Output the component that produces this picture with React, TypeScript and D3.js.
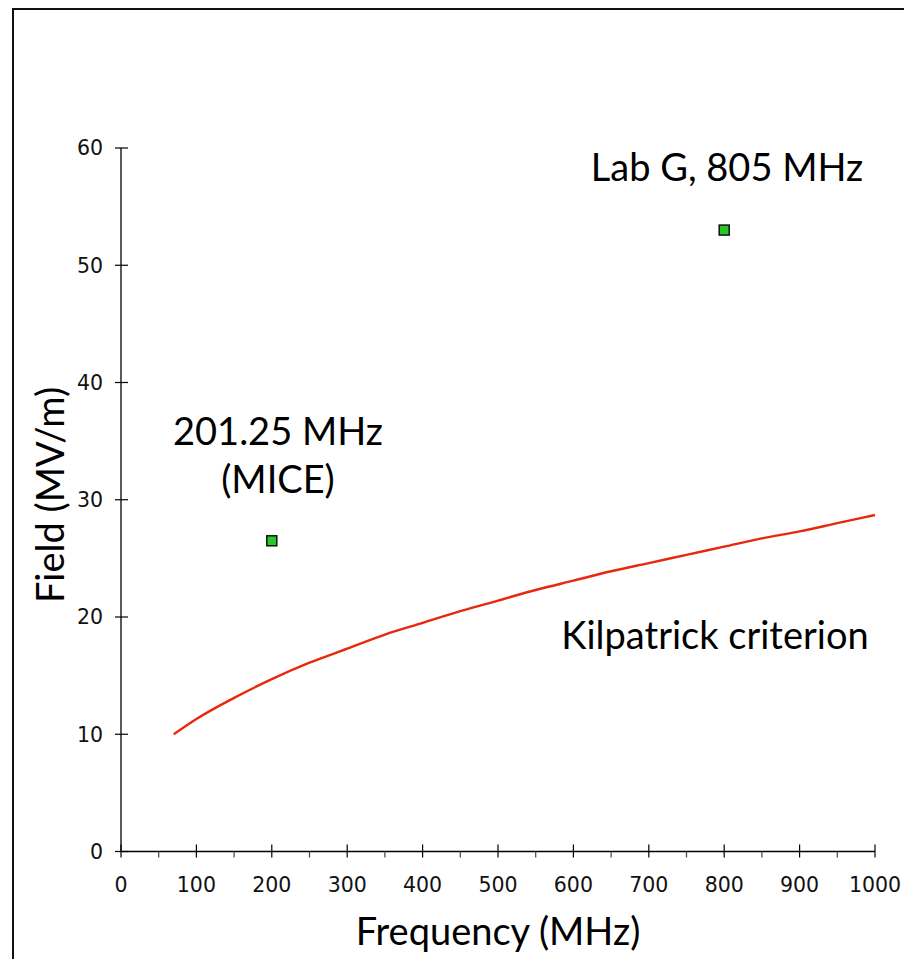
// ─ Imports ──────────────────────────────────────────────────────────────────────────────────────
import * as d3 from 'd3';
import { ReactElement, useEffect, useRef } from 'react';

// ─ Data ─────────────────────────────────────────────────────────────────────────────────────────
const kilpatrickFreq = [70, 100, 150, 200, 250, 300, 350, 400, 450, 500, 550, 600, 650, 700, 750, 800, 850, 900, 950, 1000];
const kilpatrickField = [10.0, 11.3, 13.1, 14.7, 16.1, 17.3, 18.5, 19.5, 20.5, 21.4, 22.3, 23.1, 23.9, 24.6, 25.3, 26.0, 26.7, 27.3, 28.0, 28.7];

const pointFreq = [200, 800];
const pointField = [26.5, 53];

const xTicks = [0, 100, 200, 300, 400, 500, 600, 700, 800, 900, 1000];
const xMinorTicks = [50, 150, 250, 350, 450, 550, 650, 750, 850, 950];
const yTicks = [0, 10, 20, 30, 40, 50, 60];

const WIDTH = 904;
const HEIGHT = 959;
const LABEL_FONT = '"Comic Sans MS", "Lato", "Noto Sans", sans-serif';
const TICK_FONT = '"DejaVu Sans", Verdana, sans-serif';

/**
 * Field vs frequency chart with Kilpatrick criterion curve and two measured points.
 */
const App = (): ReactElement => {
  const svgRef = useRef<SVGSVGElement>(null);

  useEffect(() => {
    if (!svgRef.current) { return; }
    const svg = d3.select(svgRef.current);
    svg.selectAll('*').remove();

    // Outer frame (cut off on the right and bottom)
    svg.append('rect')
      .attr('x', 13)
      .attr('y', 9)
      .attr('width', WIDTH + 20)
      .attr('height', HEIGHT + 20)
      .attr('fill', 'white')
      .attr('stroke', '#111')
      .attr('stroke-width', 2);

    const x = d3.scaleLinear().domain([0, 1000]).range([121, 875]);
    const y = d3.scaleLinear().domain([0, 60]).range([851.5, 148]);

    const g = svg.append('g');

    // Axes lines
    g.append('line')
      .attr('x1', x(0)).attr('x2', x(0))
      .attr('y1', y(0)).attr('y2', y(60))
      .attr('stroke', '#000').attr('stroke-width', 1.3);
    g.append('line')
      .attr('x1', x(0)).attr('x2', x(1000))
      .attr('y1', y(0)).attr('y2', y(0))
      .attr('stroke', '#000').attr('stroke-width', 1.3);

    // Y ticks (crossing)
    g.selectAll('.ytick')
      .data(yTicks)
      .enter()
      .append('line')
      .attr('x1', x(0) - 6).attr('x2', x(0) + 7)
      .attr('y1', d => y(d)).attr('y2', d => y(d))
      .attr('stroke', '#000').attr('stroke-width', 1.2);

    g.selectAll('.ylabel')
      .data(yTicks)
      .enter()
      .append('text')
      .attr('x', x(0) - 18)
      .attr('y', d => y(d))
      .attr('dy', '0.36em')
      .attr('text-anchor', 'end')
      .style('font-family', TICK_FONT)
      .style('font-size', '20.5px')
      .style('fill', '#111')
      .text(d => d);

    // X ticks (major crossing, minor below)
    g.selectAll('.xtick')
      .data(xTicks)
      .enter()
      .append('line')
      .attr('x1', d => x(d)).attr('x2', d => x(d))
      .attr('y1', y(0) - 7).attr('y2', y(0) + 6)
      .attr('stroke', '#000').attr('stroke-width', 1.2);

    g.selectAll('.xminor')
      .data(xMinorTicks)
      .enter()
      .append('line')
      .attr('x1', d => x(d)).attr('x2', d => x(d))
      .attr('y1', y(0)).attr('y2', y(0) + 6)
      .attr('stroke', '#444').attr('stroke-width', 1.2);

    g.selectAll('.xlabel')
      .data(xTicks)
      .enter()
      .append('text')
      .attr('x', d => x(d))
      .attr('y', y(0) + 40)
      .attr('text-anchor', 'middle')
      .style('font-family', TICK_FONT)
      .style('font-size', '20.5px')
      .style('fill', '#111')
      .text(d => d);

    // Kilpatrick curve
    const curveData = kilpatrickFreq.map((f, i) => [f, kilpatrickField[i]] as [number, number]);
    const line = d3.line<[number, number]>()
      .x(d => x(d[0]))
      .y(d => y(d[1]))
      .curve(d3.curveMonotoneX);

    g.append('path')
      .datum(curveData)
      .attr('d', line)
      .attr('fill', 'none')
      .attr('stroke', '#e8280c')
      .attr('stroke-width', 2.4);

    // Measured points
    g.selectAll('.pt')
      .data(pointFreq.map((f, i) => [f, pointField[i]]))
      .enter()
      .append('rect')
      .attr('x', d => x(d[0]) - 5)
      .attr('y', d => y(d[1]) - 5)
      .attr('width', 10)
      .attr('height', 10)
      .attr('fill', '#2cc42c')
      .attr('stroke', '#111')
      .attr('stroke-width', 1.5);

    // Annotations
    const addLabel = (tx: number, ty: number, text: string) => {
      g.append('text')
        .attr('x', tx)
        .attr('y', ty)
        .attr('text-anchor', 'middle')
        .style('font-family', LABEL_FONT)
        .style('font-size', '38px')
        .style('fill', '#000')
        .text(text);
    };
    addLabel(727, 181, 'Lab G, 805 MHz');
    addLabel(278, 445, '201.25 MHz');
    addLabel(278, 493, '(MICE)');
    addLabel(715, 649, 'Kilpatrick criterion');
    addLabel(498, 945, 'Frequency (MHz)');

    g.append('text')
      .attr('transform', 'translate(64, 495) rotate(-90)')
      .attr('text-anchor', 'middle')
      .style('font-family', LABEL_FONT)
      .style('font-size', '38px')
      .style('fill', '#000')
      .text('Field (MV/m)');
  }, []);

  return (
    <svg
      ref={svgRef}
      width={WIDTH}
      height={HEIGHT}
      style={{ position: 'absolute', left: 0, top: 0, background: 'white' }}
    />
  );
};

// ─ Exports ──────────────────────────────────────────────────────────────────────────────────────
export default App;
